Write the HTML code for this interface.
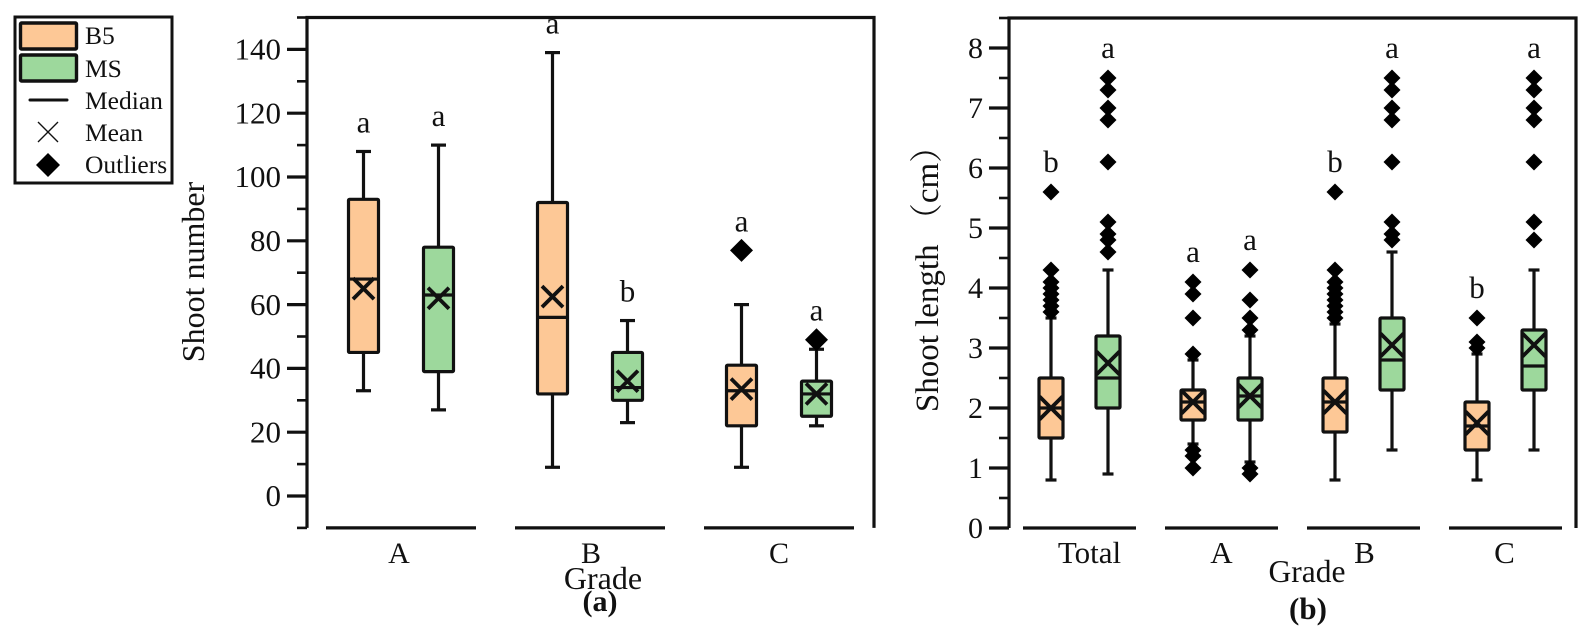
<!DOCTYPE html>
<html lang="en">
<head>
<meta charset="utf-8">
<title>Shoot number and shoot length by grade</title>
<style>
html,body{margin:0;padding:0;background:#fff;width:1588px;height:632px;overflow:hidden}
svg{display:block}
text{font-family:"Liberation Serif","Noto Serif CJK SC",serif;fill:#111}
</style>
</head>
<body>
<svg id="chart" xmlns="http://www.w3.org/2000/svg" width="1588" height="632" viewBox="0 0 1588 632">
  <g>
    <rect x="15" y="17" width="157" height="166" fill="#fff" stroke="#111" stroke-width="3"/>
    <rect x="20.5" y="23" width="56" height="26" rx="1" fill="#FDC896" stroke="#111" stroke-width="3.4"/>
    <rect x="20.5" y="55" width="56" height="26" rx="1" fill="#9DD89C" stroke="#111" stroke-width="3.4"/>
    <line x1="30" y1="100" x2="67" y2="100" stroke="#111" stroke-width="3" stroke-linecap="round"/>
    <path d="M38 122L58 142M58 122L38 142" stroke="#111" stroke-width="1.4" fill="none"/>
    <path d="M48 153L60 165L48 177L36 165Z" fill="#000"/>
    <text x="85" y="44" font-size="25.5">B5</text>
    <text x="85" y="77" font-size="25.5">MS</text>
    <text x="85" y="109" font-size="25.5">Median</text>
    <text x="85" y="141" font-size="25.5">Mean</text>
    <text x="85" y="173" font-size="25.5">Outliers</text>
  </g>
  <text transform="translate(204,272) rotate(-90)" text-anchor="middle" font-size="32">Shoot number</text>
  <text x="603" y="589" text-anchor="middle" font-size="32">Grade</text>
  <text x="600" y="611" text-anchor="middle" font-size="30" font-weight="bold">(a)</text>
  <text transform="translate(938,271) rotate(-90)" text-anchor="middle" font-size="33">Shoot length （cm）</text>
  <text x="1307" y="582" text-anchor="middle" font-size="31.5">Grade</text>
  <text x="1308" y="619" text-anchor="middle" font-size="31" font-weight="bold">(b)</text>
</svg>
<script>
// Panel (a): shoot number
const aCategories = ['A', 'B', 'C'];
const aTicks = [0, 20, 40, 60, 80, 100, 120, 140];
const aMinorTicks = [-10, 10, 30, 50, 70, 90, 110, 130, 150];
const aB5Low = [33, 9, 9];
const aB5Q1 = [45, 32, 22];
const aB5Median = [68, 56, 33];
const aB5Q3 = [93, 92, 41];
const aB5High = [108, 139, 60];
const aB5Mean = [65, 62.5, 33.5];
const aB5Outliers = [[], [], [77]];
const aB5Letters = ['a', 'a', 'a'];
const aMSLow = [27, 23, 22];
const aMSQ1 = [39, 30, 25];
const aMSMedian = [63, 34, 32];
const aMSQ3 = [78, 45, 36];
const aMSHigh = [110, 55, 46];
const aMSMean = [62, 36, 32];
const aMSOutliers = [[], [], [49]];
const aMSLetters = ['a', 'b', 'a'];

// Panel (b): shoot length
const bCategories = ['Total', 'A', 'B', 'C'];
const bTicks = [0, 1, 2, 3, 4, 5, 6, 7, 8];
const bMinorTicks = [0.5, 1.5, 2.5, 3.5, 4.5, 5.5, 6.5, 7.5, 8.5];
const bB5Low = [0.8, 1.4, 0.8, 0.8];
const bB5Q1 = [1.5, 1.8, 1.6, 1.3];
const bB5Median = [2.0, 2.1, 2.1, 1.7];
const bB5Q3 = [2.5, 2.3, 2.5, 2.1];
const bB5High = [3.5, 2.8, 3.4, 2.9];
const bB5Mean = [2.0, 2.1, 2.1, 1.75];
const bB5Outliers = [
  [3.6, 3.7, 3.8, 3.9, 4.0, 4.1, 4.3, 5.6],
  [1.0, 1.2, 1.3, 2.9, 3.5, 3.9, 4.1],
  [3.5, 3.6, 3.7, 3.8, 3.9, 4.0, 4.1, 4.3, 5.6],
  [3.0, 3.1, 3.5]
];
const bB5Letters = ['b', 'a', 'b', 'b'];
const bMSLow = [0.9, 1.1, 1.3, 1.3];
const bMSQ1 = [2.0, 1.8, 2.3, 2.3];
const bMSMedian = [2.5, 2.2, 2.8, 2.7];
const bMSQ3 = [3.2, 2.5, 3.5, 3.3];
const bMSHigh = [4.3, 3.2, 4.6, 4.3];
const bMSMean = [2.75, 2.2, 3.05, 3.05];
const bMSOutliers = [
  [4.6, 4.8, 4.9, 5.1, 6.1, 6.8, 7.0, 7.3, 7.5],
  [0.9, 1.0, 3.3, 3.5, 3.8, 4.3],
  [4.8, 4.9, 5.1, 6.1, 6.8, 7.0, 7.3, 7.5],
  [4.8, 5.1, 6.1, 6.8, 7.0, 7.3, 7.5]
];
const bMSLetters = ['a', 'a', 'a', 'a'];

const INK = '#111';
const svg = document.getElementById('chart');
function el(tag, attrs, parent) {
  const n = document.createElementNS('http://www.w3.org/2000/svg', tag);
  for (const k in attrs) n.setAttribute(k, attrs[k]);
  parent.appendChild(n);
  return n;
}

function drawPanel(cfg) {
  const y = v => cfg.y0 - v * cfg.k;
  const xc = i => cfg.xStart + i * cfg.step;
  const top = y(cfg.yMax), bottom = y(cfg.yMin);

  const root = el('g', {}, svg);
  
  

  const frame = el('path', {
    d: `M${cfg.left} ${bottom}V${top}H${cfg.right}V${bottom}`,
    fill: 'none', stroke: INK, 'stroke-width': 3.2
  }, root);
  
  

  cfg.ticks.forEach(t => {
    const line = el('line', { x1: cfg.left - 20, x2: cfg.left, y1: y(t), y2: y(t), stroke: INK, 'stroke-width': 3.2 }, root);
    
    
    const label = el('text', { x: cfg.left - 26, y: y(t) + cfg.tickFont * 0.33, 'text-anchor': 'end', 'font-size': cfg.tickFont }, root);
    label.textContent = t;
    
    
  });
  cfg.minorTicks.forEach(t => {
    const line = el('line', { x1: cfg.left - 10, x2: cfg.left, y1: y(t), y2: y(t), stroke: INK, 'stroke-width': 2.6 }, root);
    
    
  });

  cfg.categories.forEach((c, i) => {
    const seg = el('line', { x1: xc(i) - cfg.segHalf, x2: xc(i) + cfg.segHalf, y1: bottom, y2: bottom, stroke: INK, 'stroke-width': 3.2 }, root);
    
    
    const label = el('text', { x: xc(i) + (cfg.labelShift[i] || 0), y: 563, 'text-anchor': 'middle', 'font-size': cfg.catFont }, root);
    label.textContent = c;
    
    

    cfg.series.forEach(s => {
      const cx = xc(i) + s.offset;
      const g = el('g', { stroke: INK, fill: 'none', 'stroke-width': cfg.sw }, root);
      
      

      el('line', { x1: cx, x2: cx, y1: y(s.low[i]), y2: y(s.q1[i]) }, g);
      el('line', { x1: cx, x2: cx, y1: y(s.q3[i]), y2: y(s.high[i]) }, g);
      el('line', { x1: cx - cfg.capHalf, x2: cx + cfg.capHalf, y1: y(s.low[i]), y2: y(s.low[i]) }, g);
      el('line', { x1: cx - cfg.capHalf, x2: cx + cfg.capHalf, y1: y(s.high[i]), y2: y(s.high[i]) }, g);
      el('rect', {
        x: cx - cfg.boxHalf, y: y(s.q3[i]), width: cfg.boxHalf * 2, height: y(s.q1[i]) - y(s.q3[i]),
        fill: s.color, rx: 1, 'stroke-linejoin': 'round'
      }, g);
      el('line', { x1: cx - cfg.boxHalf, x2: cx + cfg.boxHalf, y1: y(s.median[i]), y2: y(s.median[i]) }, g);
      const my = y(s.mean[i]), m = cfg.meanHalf;
      el('path', { d: `M${cx - m} ${my - m}L${cx + m} ${my + m}M${cx + m} ${my - m}L${cx - m} ${my + m}`, 'stroke-width': cfg.sw + 0.6 }, g);

      s.outliers[i].forEach(o => {
        const oy = y(o), d = cfg.diamond;
        const mark = el('path', { d: `M${cx} ${oy - d}L${cx + d} ${oy}L${cx} ${oy + d}L${cx - d} ${oy}Z`, fill: '#000', stroke: 'none' }, root);
        
        
      });

      const topValue = Math.max(s.high[i], ...s.outliers[i]);
      const letter = el('text', { x: cx, y: y(topValue) - cfg.letterGap, 'text-anchor': 'middle', 'font-size': cfg.letterFont }, root);
      letter.textContent = s.letters[i];
      
      
    });
  });
}

drawPanel({
  id: 'panel-a', y0: 496, k: 3.19, yMin: -10, yMax: 150, left: 307, right: 874,
  xStart: 401, step: 189, segHalf: 75, boxHalf: 15, capHalf: 7.5, meanHalf: 10.5, diamond: 11.5, sw: 3.2,
  tickFont: 31, catFont: 30, letterFont: 31, letterGap: 19, labelShift: [-2, 1, 0],
  categories: aCategories, ticks: aTicks, minorTicks: aMinorTicks,
  series: [
    { name: 'b5', offset: -37.5, color: '#FDC896', low: aB5Low, q1: aB5Q1, median: aB5Median, q3: aB5Q3, high: aB5High, mean: aB5Mean, outliers: aB5Outliers, letters: aB5Letters },
    { name: 'ms', offset: 37.5, color: '#9DD89C', low: aMSLow, q1: aMSQ1, median: aMSMedian, q3: aMSQ3, high: aMSHigh, mean: aMSMean, outliers: aMSOutliers, letters: aMSLetters }
  ]
});

drawPanel({
  id: 'panel-b', y0: 528, k: 60, yMin: 0, yMax: 8.5, left: 1009, right: 1576,
  xStart: 1079.5, step: 142, segHalf: 56.5, boxHalf: 12, capHalf: 5.5, meanHalf: 11.5, diamond: 8.5, sw: 3.2,
  tickFont: 30, catFont: 31, letterFont: 31, letterGap: 20, labelShift: [10, 0, 1, -1],
  categories: bCategories, ticks: bTicks, minorTicks: bMinorTicks,
  series: [
    { name: 'b5', offset: -28.5, color: '#FDC896', low: bB5Low, q1: bB5Q1, median: bB5Median, q3: bB5Q3, high: bB5High, mean: bB5Mean, outliers: bB5Outliers, letters: bB5Letters },
    { name: 'ms', offset: 28.5, color: '#9DD89C', low: bMSLow, q1: bMSQ1, median: bMSMedian, q3: bMSQ3, high: bMSHigh, mean: bMSMean, outliers: bMSOutliers, letters: bMSLetters }
  ]
});
</script>
</body>
</html>
